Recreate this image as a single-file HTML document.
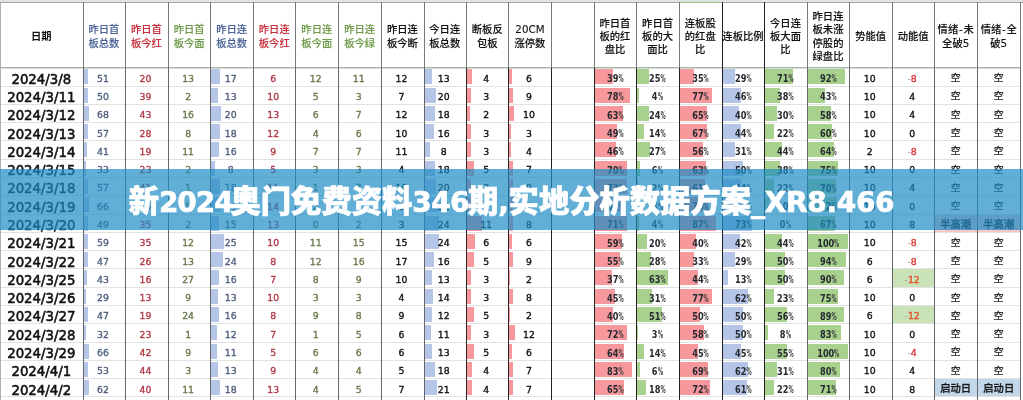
<!DOCTYPE html><html><head><meta charset="utf-8"><title>sheet</title><style>
html,body{margin:0;padding:0;background:#fff}
#r{position:relative;width:1023px;height:400px;overflow:hidden;background:#fff}
#r div{position:absolute}
.hl{height:1px;background:#e2e2e2}
.vl{width:1px}
.bar{}
.t{text-align:center;white-space:nowrap;font-family:"DejaVu Sans",sans-serif;font-size:9.3px;line-height:12px;-webkit-text-stroke:0.35px currentColor}
.d{text-align:center;white-space:nowrap;font-family:"DejaVu Sans",sans-serif;font-size:13.3px;line-height:16px;color:#111;-webkit-text-stroke:0.55px #111}
.p{text-align:center;white-space:nowrap;font-family:"DejaVu Sans Condensed","DejaVu Sans",sans-serif;font-weight:bold;font-stretch:condensed;font-size:10.6px;line-height:12px;color:#262a30;transform:scaleX(0.86)}
.p .pc{display:inline-block;transform:scaleX(0.62);transform-origin:0 0;margin-right:-3.6px;color:#383838}
.h{text-align:center;white-space:nowrap;font-family:"DejaVu Sans","Noto Sans CJK SC",sans-serif;font-weight:500;font-size:10.3px;line-height:13.2px;-webkit-text-stroke:0.12px currentColor}
.c{text-align:center;white-space:nowrap;font-family:"Liberation Sans","WenQuanYi Zen Hei",sans-serif;font-size:9.8px;line-height:12px;color:#1a1a1a;-webkit-text-stroke:0.3px #1a1a1a}
.c2{text-align:center;white-space:nowrap;font-family:"Liberation Sans","Noto Sans CJK SC",sans-serif;font-weight:500;font-size:10.3px;line-height:12px;color:#1a1a1a;-webkit-text-stroke:0.3px #1a1a1a}
#bn{left:0;top:169px;width:1023px;height:61px;background:rgba(30,139,196,0.7)}
#bt{left:0;top:169px;width:1023px;height:61px;text-align:center;color:#fff;font-family:"Noto Sans CJK SC",sans-serif;font-weight:900;font-size:30.3px;line-height:61px;white-space:nowrap}
#bt .lt{font-family:"DejaVu Sans",sans-serif;font-weight:bold;font-size:28px;letter-spacing:-0.3px}
#bt{-webkit-text-stroke:0.7px #fff}

</style></head><body><div id="r">
<div style="left:0;top:0;width:1023px;height:2px;background:#e3e3e3"></div>
<div style="left:0;top:2px;width:1023px;height:1px;background:#a8a8a8"></div>
<div style="left:679px;top:1px;width:43px;height:1px;background:#d2e8cc"></div>
<div style="left:679px;top:2px;width:43px;height:1px;background:#9cc894"></div>
<div style="left:893px;top:269px;width:41.3px;height:18px;background:#c9e2b8"></div>
<div style="left:893px;top:306px;width:41.3px;height:18px;background:#c9e2b8"></div>
<div style="left:935.3px;top:214px;width:41.8px;height:18px;background:#f6c9c9"></div>
<div style="left:978.1px;top:214px;width:42.3px;height:18px;background:#f6c9c9"></div>
<div style="left:935.3px;top:379px;width:41.8px;height:18px;background:#c2d7ea"></div>
<div style="left:978.1px;top:379px;width:42.3px;height:18px;background:#c2d7ea"></div>
<div class="hl" style="left:0;top:86px;width:1021px"></div>
<div class="hl" style="left:0;top:104px;width:1021px"></div>
<div class="hl" style="left:0;top:122px;width:1021px"></div>
<div class="hl" style="left:0;top:140px;width:1021px"></div>
<div class="hl" style="left:0;top:159px;width:1021px"></div>
<div class="hl" style="left:0;top:177px;width:1021px"></div>
<div class="hl" style="left:0;top:195px;width:1021px"></div>
<div class="hl" style="left:0;top:214px;width:1021px"></div>
<div class="hl" style="left:0;top:232px;width:1021px"></div>
<div class="hl" style="left:0;top:250px;width:1021px"></div>
<div class="hl" style="left:0;top:268px;width:1021px"></div>
<div class="hl" style="left:0;top:287px;width:1021px"></div>
<div class="hl" style="left:0;top:305px;width:1021px"></div>
<div class="hl" style="left:0;top:323px;width:1021px"></div>
<div class="hl" style="left:0;top:342px;width:1021px"></div>
<div class="hl" style="left:0;top:360px;width:1021px"></div>
<div class="hl" style="left:0;top:378px;width:1021px"></div>
<div class="hl" style="left:0;top:396px;width:1021px"></div>
<div style="left:84px;top:69px;width:4px;height:15.29px;background:#b4c5e8"></div>
<div style="left:211px;top:69px;width:9px;height:15.29px;background:#b4c5e8"></div>
<div style="left:425px;top:69px;width:7px;height:15.29px;background:#b4c5e8"></div>
<div style="left:467px;top:69px;width:5px;height:15.29px;background:#f7989d"></div>
<div style="left:509px;top:69px;width:3px;height:15.29px;background:#f7989d"></div>
<div style="left:595px;top:69px;width:18px;height:15.29px;background:#f7989d"></div>
<div style="left:637px;top:69px;width:12px;height:15.29px;background:#a9d18e"></div>
<div style="left:680px;top:69px;width:14px;height:15.29px;background:#f7989d"></div>
<div style="left:723px;top:69px;width:12px;height:15.29px;background:#b4c5e8"></div>
<div style="left:765px;top:69px;width:28px;height:15.29px;background:#a9d18e"></div>
<div style="left:808px;top:69px;width:37px;height:15.29px;background:#a9d18e"></div>
<div style="left:84px;top:88px;width:4px;height:15.29px;background:#b4c5e8"></div>
<div style="left:211px;top:88px;width:7px;height:15.29px;background:#b4c5e8"></div>
<div style="left:425px;top:88px;width:11px;height:15.29px;background:#b4c5e8"></div>
<div style="left:467px;top:88px;width:4px;height:15.29px;background:#f7989d"></div>
<div style="left:509px;top:88px;width:4px;height:15.29px;background:#f7989d"></div>
<div style="left:595px;top:88px;width:35px;height:15.29px;background:#f7989d"></div>
<div style="left:637px;top:88px;width:2px;height:15.29px;background:#a9d18e"></div>
<div style="left:680px;top:88px;width:32px;height:15.29px;background:#f7989d"></div>
<div style="left:723px;top:88px;width:18px;height:15.29px;background:#b4c5e8"></div>
<div style="left:765px;top:88px;width:15px;height:15.29px;background:#a9d18e"></div>
<div style="left:808px;top:88px;width:17px;height:15.29px;background:#a9d18e"></div>
<div style="left:84px;top:106px;width:5px;height:15.29px;background:#b4c5e8"></div>
<div style="left:211px;top:106px;width:10px;height:15.29px;background:#b4c5e8"></div>
<div style="left:425px;top:106px;width:10px;height:15.29px;background:#b4c5e8"></div>
<div style="left:467px;top:106px;width:3px;height:15.29px;background:#f7989d"></div>
<div style="left:509px;top:106px;width:5px;height:15.29px;background:#f7989d"></div>
<div style="left:595px;top:106px;width:28px;height:15.29px;background:#f7989d"></div>
<div style="left:637px;top:106px;width:12px;height:15.29px;background:#a9d18e"></div>
<div style="left:680px;top:106px;width:27px;height:15.29px;background:#f7989d"></div>
<div style="left:723px;top:106px;width:16px;height:15.29px;background:#b4c5e8"></div>
<div style="left:765px;top:106px;width:12px;height:15.29px;background:#a9d18e"></div>
<div style="left:808px;top:106px;width:23px;height:15.29px;background:#a9d18e"></div>
<div style="left:84px;top:124px;width:4px;height:15.29px;background:#b4c5e8"></div>
<div style="left:211px;top:124px;width:9px;height:15.29px;background:#b4c5e8"></div>
<div style="left:425px;top:124px;width:9px;height:15.29px;background:#b4c5e8"></div>
<div style="left:467px;top:124px;width:4px;height:15.29px;background:#f7989d"></div>
<div style="left:509px;top:124px;width:2px;height:15.29px;background:#f7989d"></div>
<div style="left:595px;top:124px;width:22px;height:15.29px;background:#f7989d"></div>
<div style="left:637px;top:124px;width:7px;height:15.29px;background:#a9d18e"></div>
<div style="left:680px;top:124px;width:27px;height:15.29px;background:#f7989d"></div>
<div style="left:723px;top:124px;width:18px;height:15.29px;background:#b4c5e8"></div>
<div style="left:765px;top:124px;width:9px;height:15.29px;background:#a9d18e"></div>
<div style="left:808px;top:124px;width:24px;height:15.29px;background:#a9d18e"></div>
<div style="left:84px;top:142px;width:3px;height:15.29px;background:#b4c5e8"></div>
<div style="left:211px;top:142px;width:8px;height:15.29px;background:#b4c5e8"></div>
<div style="left:425px;top:142px;width:5px;height:15.29px;background:#b4c5e8"></div>
<div style="left:467px;top:142px;width:4px;height:15.29px;background:#f7989d"></div>
<div style="left:509px;top:142px;width:2px;height:15.29px;background:#f7989d"></div>
<div style="left:595px;top:142px;width:21px;height:15.29px;background:#f7989d"></div>
<div style="left:637px;top:142px;width:13px;height:15.29px;background:#a9d18e"></div>
<div style="left:680px;top:142px;width:23px;height:15.29px;background:#f7989d"></div>
<div style="left:723px;top:142px;width:12px;height:15.29px;background:#b4c5e8"></div>
<div style="left:765px;top:142px;width:17px;height:15.29px;background:#a9d18e"></div>
<div style="left:808px;top:142px;width:26px;height:15.29px;background:#a9d18e"></div>
<div style="left:84px;top:161px;width:2px;height:15.29px;background:#b4c5e8"></div>
<div style="left:211px;top:161px;width:4px;height:15.29px;background:#b4c5e8"></div>
<div style="left:425px;top:161px;width:10px;height:15.29px;background:#b4c5e8"></div>
<div style="left:467px;top:161px;width:7px;height:15.29px;background:#f7989d"></div>
<div style="left:509px;top:161px;width:4px;height:15.29px;background:#f7989d"></div>
<div style="left:595px;top:161px;width:32px;height:15.29px;background:#f7989d"></div>
<div style="left:637px;top:161px;width:3px;height:15.29px;background:#a9d18e"></div>
<div style="left:680px;top:161px;width:26px;height:15.29px;background:#f7989d"></div>
<div style="left:723px;top:161px;width:20px;height:15.29px;background:#b4c5e8"></div>
<div style="left:765px;top:161px;width:15px;height:15.29px;background:#a9d18e"></div>
<div style="left:808px;top:161px;width:30px;height:15.29px;background:#a9d18e"></div>
<div style="left:84px;top:179px;width:4px;height:15.29px;background:#b4c5e8"></div>
<div style="left:211px;top:179px;width:9px;height:15.29px;background:#b4c5e8"></div>
<div style="left:425px;top:179px;width:11px;height:15.29px;background:#b4c5e8"></div>
<div style="left:467px;top:179px;width:4px;height:15.29px;background:#f7989d"></div>
<div style="left:509px;top:179px;width:4px;height:15.29px;background:#f7989d"></div>
<div style="left:595px;top:179px;width:32px;height:15.29px;background:#f7989d"></div>
<div style="left:637px;top:179px;width:1px;height:15.29px;background:#a9d18e"></div>
<div style="left:680px;top:179px;width:25px;height:15.29px;background:#f7989d"></div>
<div style="left:723px;top:179px;width:18px;height:15.29px;background:#b4c5e8"></div>
<div style="left:765px;top:179px;width:9px;height:15.29px;background:#a9d18e"></div>
<div style="left:808px;top:179px;width:28px;height:15.29px;background:#a9d18e"></div>
<div style="left:84px;top:197px;width:5px;height:15.29px;background:#b4c5e8"></div>
<div style="left:211px;top:197px;width:10px;height:15.29px;background:#b4c5e8"></div>
<div style="left:425px;top:197px;width:13px;height:15.29px;background:#b4c5e8"></div>
<div style="left:467px;top:197px;width:5px;height:15.29px;background:#f7989d"></div>
<div style="left:509px;top:197px;width:4px;height:15.29px;background:#f7989d"></div>
<div style="left:595px;top:197px;width:31px;height:15.29px;background:#f7989d"></div>
<div style="left:637px;top:197px;width:4px;height:15.29px;background:#a9d18e"></div>
<div style="left:680px;top:197px;width:29px;height:15.29px;background:#f7989d"></div>
<div style="left:723px;top:197px;width:20px;height:15.29px;background:#b4c5e8"></div>
<div style="left:765px;top:197px;width:4px;height:15.29px;background:#a9d18e"></div>
<div style="left:808px;top:197px;width:29px;height:15.29px;background:#a9d18e"></div>
<div style="left:84px;top:216px;width:4px;height:15.29px;background:#b4c5e8"></div>
<div style="left:211px;top:216px;width:8px;height:15.29px;background:#b4c5e8"></div>
<div style="left:425px;top:216px;width:14px;height:15.29px;background:#b4c5e8"></div>
<div style="left:467px;top:216px;width:15px;height:15.29px;background:#f7989d"></div>
<div style="left:509px;top:216px;width:4px;height:15.29px;background:#f7989d"></div>
<div style="left:595px;top:216px;width:32px;height:15.29px;background:#f7989d"></div>
<div style="left:637px;top:216px;width:2px;height:15.29px;background:#a9d18e"></div>
<div style="left:680px;top:216px;width:36px;height:15.29px;background:#f7989d"></div>
<div style="left:723px;top:216px;width:29px;height:15.29px;background:#b4c5e8"></div>
<div style="left:808px;top:216px;width:27px;height:15.29px;background:#a9d18e"></div>
<div style="left:84px;top:234px;width:4px;height:15.29px;background:#b4c5e8"></div>
<div style="left:211px;top:234px;width:13px;height:15.29px;background:#b4c5e8"></div>
<div style="left:425px;top:234px;width:14px;height:15.29px;background:#b4c5e8"></div>
<div style="left:467px;top:234px;width:8px;height:15.29px;background:#f7989d"></div>
<div style="left:509px;top:234px;width:3px;height:15.29px;background:#f7989d"></div>
<div style="left:595px;top:234px;width:27px;height:15.29px;background:#f7989d"></div>
<div style="left:637px;top:234px;width:10px;height:15.29px;background:#a9d18e"></div>
<div style="left:680px;top:234px;width:16px;height:15.29px;background:#f7989d"></div>
<div style="left:723px;top:234px;width:17px;height:15.29px;background:#b4c5e8"></div>
<div style="left:765px;top:234px;width:17px;height:15.29px;background:#a9d18e"></div>
<div style="left:808px;top:234px;width:40px;height:15.29px;background:#a9d18e"></div>
<div style="left:84px;top:252px;width:4px;height:15.29px;background:#b4c5e8"></div>
<div style="left:211px;top:252px;width:12px;height:15.29px;background:#b4c5e8"></div>
<div style="left:425px;top:252px;width:9px;height:15.29px;background:#b4c5e8"></div>
<div style="left:467px;top:252px;width:7px;height:15.29px;background:#f7989d"></div>
<div style="left:509px;top:252px;width:4px;height:15.29px;background:#f7989d"></div>
<div style="left:595px;top:252px;width:25px;height:15.29px;background:#f7989d"></div>
<div style="left:637px;top:252px;width:14px;height:15.29px;background:#a9d18e"></div>
<div style="left:680px;top:252px;width:14px;height:15.29px;background:#f7989d"></div>
<div style="left:723px;top:252px;width:12px;height:15.29px;background:#b4c5e8"></div>
<div style="left:765px;top:252px;width:20px;height:15.29px;background:#a9d18e"></div>
<div style="left:808px;top:252px;width:38px;height:15.29px;background:#a9d18e"></div>
<div style="left:84px;top:270px;width:3px;height:15.29px;background:#b4c5e8"></div>
<div style="left:211px;top:270px;width:8px;height:15.29px;background:#b4c5e8"></div>
<div style="left:425px;top:270px;width:7px;height:15.29px;background:#b4c5e8"></div>
<div style="left:467px;top:270px;width:4px;height:15.29px;background:#f7989d"></div>
<div style="left:509px;top:270px;width:1px;height:15.29px;background:#f7989d"></div>
<div style="left:595px;top:270px;width:17px;height:15.29px;background:#f7989d"></div>
<div style="left:637px;top:270px;width:31px;height:15.29px;background:#a9d18e"></div>
<div style="left:680px;top:270px;width:18px;height:15.29px;background:#f7989d"></div>
<div style="left:723px;top:270px;width:5px;height:15.29px;background:#b4c5e8"></div>
<div style="left:765px;top:270px;width:20px;height:15.29px;background:#a9d18e"></div>
<div style="left:808px;top:270px;width:36px;height:15.29px;background:#a9d18e"></div>
<div style="left:84px;top:289px;width:2px;height:15.29px;background:#b4c5e8"></div>
<div style="left:211px;top:289px;width:7px;height:15.29px;background:#b4c5e8"></div>
<div style="left:425px;top:289px;width:8px;height:15.29px;background:#b4c5e8"></div>
<div style="left:467px;top:289px;width:4px;height:15.29px;background:#f7989d"></div>
<div style="left:509px;top:289px;width:4px;height:15.29px;background:#f7989d"></div>
<div style="left:595px;top:289px;width:20px;height:15.29px;background:#f7989d"></div>
<div style="left:637px;top:289px;width:15px;height:15.29px;background:#a9d18e"></div>
<div style="left:680px;top:289px;width:32px;height:15.29px;background:#f7989d"></div>
<div style="left:723px;top:289px;width:25px;height:15.29px;background:#b4c5e8"></div>
<div style="left:765px;top:289px;width:9px;height:15.29px;background:#a9d18e"></div>
<div style="left:808px;top:289px;width:30px;height:15.29px;background:#a9d18e"></div>
<div style="left:84px;top:307px;width:4px;height:15.29px;background:#b4c5e8"></div>
<div style="left:211px;top:307px;width:8px;height:15.29px;background:#b4c5e8"></div>
<div style="left:425px;top:307px;width:7px;height:15.29px;background:#b4c5e8"></div>
<div style="left:467px;top:307px;width:7px;height:15.29px;background:#f7989d"></div>
<div style="left:509px;top:307px;width:1px;height:15.29px;background:#f7989d"></div>
<div style="left:595px;top:307px;width:18px;height:15.29px;background:#f7989d"></div>
<div style="left:637px;top:307px;width:25px;height:15.29px;background:#a9d18e"></div>
<div style="left:680px;top:307px;width:20px;height:15.29px;background:#f7989d"></div>
<div style="left:723px;top:307px;width:20px;height:15.29px;background:#b4c5e8"></div>
<div style="left:765px;top:307px;width:22px;height:15.29px;background:#a9d18e"></div>
<div style="left:808px;top:307px;width:36px;height:15.29px;background:#a9d18e"></div>
<div style="left:84px;top:325px;width:2px;height:15.29px;background:#b4c5e8"></div>
<div style="left:211px;top:325px;width:6px;height:15.29px;background:#b4c5e8"></div>
<div style="left:425px;top:325px;width:6px;height:15.29px;background:#b4c5e8"></div>
<div style="left:467px;top:325px;width:4px;height:15.29px;background:#f7989d"></div>
<div style="left:509px;top:325px;width:6px;height:15.29px;background:#f7989d"></div>
<div style="left:595px;top:325px;width:32px;height:15.29px;background:#f7989d"></div>
<div style="left:637px;top:325px;width:1px;height:15.29px;background:#a9d18e"></div>
<div style="left:680px;top:325px;width:24px;height:15.29px;background:#f7989d"></div>
<div style="left:723px;top:325px;width:20px;height:15.29px;background:#b4c5e8"></div>
<div style="left:765px;top:325px;width:3px;height:15.29px;background:#a9d18e"></div>
<div style="left:808px;top:325px;width:33px;height:15.29px;background:#a9d18e"></div>
<div style="left:84px;top:344px;width:5px;height:15.29px;background:#b4c5e8"></div>
<div style="left:211px;top:344px;width:6px;height:15.29px;background:#b4c5e8"></div>
<div style="left:425px;top:344px;width:7px;height:15.29px;background:#b4c5e8"></div>
<div style="left:467px;top:344px;width:7px;height:15.29px;background:#f7989d"></div>
<div style="left:509px;top:344px;width:3px;height:15.29px;background:#f7989d"></div>
<div style="left:595px;top:344px;width:29px;height:15.29px;background:#f7989d"></div>
<div style="left:637px;top:344px;width:7px;height:15.29px;background:#a9d18e"></div>
<div style="left:680px;top:344px;width:18px;height:15.29px;background:#f7989d"></div>
<div style="left:723px;top:344px;width:18px;height:15.29px;background:#b4c5e8"></div>
<div style="left:765px;top:344px;width:22px;height:15.29px;background:#a9d18e"></div>
<div style="left:808px;top:344px;width:40px;height:15.29px;background:#a9d18e"></div>
<div style="left:84px;top:362px;width:4px;height:15.29px;background:#b4c5e8"></div>
<div style="left:211px;top:362px;width:7px;height:15.29px;background:#b4c5e8"></div>
<div style="left:425px;top:362px;width:10px;height:15.29px;background:#b4c5e8"></div>
<div style="left:467px;top:362px;width:5px;height:15.29px;background:#f7989d"></div>
<div style="left:509px;top:362px;width:4px;height:15.29px;background:#f7989d"></div>
<div style="left:595px;top:362px;width:37px;height:15.29px;background:#f7989d"></div>
<div style="left:637px;top:362px;width:3px;height:15.29px;background:#a9d18e"></div>
<div style="left:680px;top:362px;width:28px;height:15.29px;background:#f7989d"></div>
<div style="left:723px;top:362px;width:25px;height:15.29px;background:#b4c5e8"></div>
<div style="left:765px;top:362px;width:12px;height:15.29px;background:#a9d18e"></div>
<div style="left:808px;top:362px;width:32px;height:15.29px;background:#a9d18e"></div>
<div style="left:84px;top:380px;width:5px;height:15.29px;background:#b4c5e8"></div>
<div style="left:211px;top:380px;width:9px;height:15.29px;background:#b4c5e8"></div>
<div style="left:425px;top:380px;width:12px;height:15.29px;background:#b4c5e8"></div>
<div style="left:467px;top:380px;width:5px;height:15.29px;background:#f7989d"></div>
<div style="left:509px;top:380px;width:4px;height:15.29px;background:#f7989d"></div>
<div style="left:595px;top:380px;width:29px;height:15.29px;background:#f7989d"></div>
<div style="left:637px;top:380px;width:9px;height:15.29px;background:#a9d18e"></div>
<div style="left:680px;top:380px;width:30px;height:15.29px;background:#f7989d"></div>
<div style="left:723px;top:380px;width:24px;height:15.29px;background:#b4c5e8"></div>
<div style="left:765px;top:380px;width:9px;height:15.29px;background:#a9d18e"></div>
<div style="left:808px;top:380px;width:28px;height:15.29px;background:#a9d18e"></div>
<div style="left:0;top:67px;width:1021px;height:1px;background:#a9b3a9"></div>
<div style="left:0;top:68px;width:1021px;height:1px;background:#d5dcd5"></div>
<div class="vl" style="left:0px;top:2px;height:66px;background:#b0b0b0"></div>
<div class="vl" style="left:0px;top:68px;height:332px;background:#b0b0b0"></div>
<div class="vl" style="left:83px;top:2px;height:66px;background:#787878"></div>
<div class="vl" style="left:83px;top:68px;height:332px;background:#666"></div>
<div class="vl" style="left:125px;top:2px;height:66px;background:#787878"></div>
<div class="vl" style="left:125px;top:68px;height:332px;background:#666"></div>
<div class="vl" style="left:168px;top:2px;height:66px;background:#787878"></div>
<div class="vl" style="left:168px;top:68px;height:332px;background:#666"></div>
<div class="vl" style="left:210px;top:2px;height:66px;background:#787878"></div>
<div class="vl" style="left:210px;top:68px;height:332px;background:#666"></div>
<div class="vl" style="left:253px;top:2px;height:66px;background:#787878"></div>
<div class="vl" style="left:253px;top:68px;height:332px;background:#666"></div>
<div class="vl" style="left:295px;top:2px;height:66px;background:#787878"></div>
<div class="vl" style="left:295px;top:68px;height:332px;background:#666"></div>
<div class="vl" style="left:338px;top:2px;height:66px;background:#787878"></div>
<div class="vl" style="left:338px;top:68px;height:332px;background:#666"></div>
<div class="vl" style="left:381px;top:2px;height:66px;background:#787878"></div>
<div class="vl" style="left:381px;top:68px;height:332px;background:#666"></div>
<div class="vl" style="left:424px;top:2px;height:66px;background:#787878"></div>
<div class="vl" style="left:424px;top:68px;height:332px;background:#666"></div>
<div class="vl" style="left:466px;top:2px;height:66px;background:#787878"></div>
<div class="vl" style="left:466px;top:68px;height:332px;background:#2e2222"></div>
<div class="vl" style="left:508px;top:2px;height:66px;background:#787878"></div>
<div class="vl" style="left:508px;top:68px;height:332px;background:#2e2222"></div>
<div class="vl" style="left:551px;top:2px;height:66px;background:#787878"></div>
<div class="vl" style="left:551px;top:68px;height:332px;background:#222"></div>
<div class="vl" style="left:594px;top:2px;height:66px;background:#787878"></div>
<div class="vl" style="left:594px;top:68px;height:332px;background:#222"></div>
<div class="vl" style="left:636px;top:2px;height:66px;background:#787878"></div>
<div class="vl" style="left:636px;top:68px;height:332px;background:#222"></div>
<div class="vl" style="left:679px;top:2px;height:66px;background:#787878"></div>
<div class="vl" style="left:679px;top:68px;height:332px;background:#222"></div>
<div class="vl" style="left:722px;top:2px;height:66px;background:#1e1e1e"></div>
<div class="vl" style="left:722px;top:68px;height:332px;background:#1e1e1e"></div>
<div class="vl" style="left:764px;top:2px;height:66px;background:#1e1e1e"></div>
<div class="vl" style="left:764px;top:68px;height:332px;background:#1e1e1e"></div>
<div class="vl" style="left:807px;top:2px;height:66px;background:#787878"></div>
<div class="vl" style="left:807px;top:68px;height:332px;background:#666"></div>
<div class="vl" style="left:849px;top:2px;height:66px;background:#787878"></div>
<div class="vl" style="left:849px;top:68px;height:332px;background:#666"></div>
<div class="vl" style="left:892px;top:2px;height:66px;background:#787878"></div>
<div class="vl" style="left:892px;top:68px;height:332px;background:#666"></div>
<div class="vl" style="left:934px;top:2px;height:66px;background:#787878"></div>
<div class="vl" style="left:934px;top:68px;height:332px;background:#666"></div>
<div class="vl" style="left:977px;top:2px;height:66px;background:#787878"></div>
<div class="vl" style="left:977px;top:68px;height:332px;background:#666"></div>
<div class="vl" style="left:1020px;top:2px;height:66px;background:#787878"></div>
<div class="vl" style="left:1020px;top:68px;height:332px;background:#666"></div>
<div class="h" style="left:0px;top:30px;width:82.6px;color:#111;font-weight:bold;-webkit-text-stroke:0;">日期</div>
<div class="h" style="left:82.6px;top:23.4px;width:42.6px;color:#4a6496;">昨日首<br>板总数</div>
<div class="h" style="left:125.2px;top:23.4px;width:42.6px;color:#c8303c;">昨日首<br>板今红</div>
<div class="h" style="left:167.8px;top:23.4px;width:42.6px;color:#6f9a4a;">昨日首<br>板今面</div>
<div class="h" style="left:210.4px;top:23.4px;width:42.7px;color:#4a6496;">昨日连<br>板总数</div>
<div class="h" style="left:253.1px;top:23.4px;width:42.3px;color:#c8303c;">昨日连<br>板今红</div>
<div class="h" style="left:295.4px;top:23.4px;width:42.8px;color:#6f9a4a;">昨日连<br>板今面</div>
<div class="h" style="left:338.2px;top:23.4px;width:43.1px;color:#6f9a4a;">昨日连<br>板今绿</div>
<div class="h" style="left:381.3px;top:23.4px;width:42.2px;color:#111;">昨日连<br>板今断</div>
<div class="h" style="left:423.5px;top:23.4px;width:42.5px;color:#111;">今日连<br>板总数</div>
<div class="h" style="left:466px;top:23.4px;width:42.5px;color:#111;">断板反<br>包板</div>
<div class="h" style="left:508.5px;top:23.4px;width:42.9px;color:#111;">20CM<br>涨停数</div>
<div class="h" style="left:593.7px;top:16.8px;width:42.6px;color:#111;">昨日首<br>板的红<br>盘比</div>
<div class="h" style="left:636.3px;top:16.8px;width:42.5px;color:#111;">昨日首<br>板的大<br>面比</div>
<div class="h" style="left:678.8px;top:16.8px;width:42.9px;color:#111;">连板股<br>的红盘<br>比</div>
<div class="h" style="left:721.7px;top:30px;width:42.6px;color:#111;">连板比例</div>
<div class="h" style="left:764.3px;top:16.8px;width:42.4px;color:#111;">今日连<br>板大面<br>比</div>
<div class="h" style="left:806.7px;top:10.2px;width:42.7px;color:#111;">昨日连<br>板未涨<br>停股的<br>绿盘比</div>
<div class="h" style="left:849.4px;top:30px;width:42.6px;color:#111;">势能值</div>
<div class="h" style="left:892px;top:30px;width:42.3px;color:#111;">动能值</div>
<div class="h" style="left:934.3px;top:23.4px;width:42.8px;color:#111;">情绪<span style="padding:0 0.8px">-</span>未<br>全破5</div>
<div class="h" style="left:977.1px;top:23.4px;width:43.3px;color:#111;">情绪<span style="padding:0 0.8px">-</span>全<br>破5</div>
<div class="d" style="left:0px;top:71.65px;width:82.6px">2024/3/8</div>
<div class="t" style="left:81.6px;top:72.65px;width:42.6px;color:#50607e">51</div>
<div class="t" style="left:124.2px;top:72.65px;width:42.6px;color:#b03a48">20</div>
<div class="t" style="left:166.8px;top:72.65px;width:42.6px;color:#6b7a4c">13</div>
<div class="t" style="left:209.4px;top:72.65px;width:42.7px;color:#50607e">17</div>
<div class="t" style="left:252.1px;top:72.65px;width:42.3px;color:#b03a48">6</div>
<div class="t" style="left:294.4px;top:72.65px;width:42.8px;color:#6b7a4c">12</div>
<div class="t" style="left:337.2px;top:72.65px;width:43.1px;color:#6b7a4c">11</div>
<div class="t" style="left:380.3px;top:72.65px;width:42.2px;color:#111">12</div>
<div class="t" style="left:422.5px;top:72.65px;width:42.5px;color:#111">13</div>
<div class="t" style="left:465px;top:72.65px;width:42.5px;color:#111">4</div>
<div class="t" style="left:507.5px;top:72.65px;width:42.9px;color:#111">6</div>
<div class="p" style="left:593.7px;top:72.15px;width:42.6px">39<span class="pc">%</span></div>
<div class="p" style="left:636.3px;top:72.15px;width:42.5px">25<span class="pc">%</span></div>
<div class="p" style="left:678.8px;top:72.15px;width:42.9px">35<span class="pc">%</span></div>
<div class="p" style="left:721.7px;top:72.15px;width:42.6px">29<span class="pc">%</span></div>
<div class="p" style="left:764.3px;top:72.15px;width:42.4px">71<span class="pc">%</span></div>
<div class="p" style="left:806.7px;top:72.15px;width:42.7px">92<span class="pc">%</span></div>
<div class="t" style="left:848.4px;top:72.65px;width:42.6px;color:#111">10</div>
<div class="t" style="left:891px;top:72.65px;width:42.3px;color:#d8383a"><span style="color:#b89090;-webkit-text-stroke:0">-</span>8</div>
<div class="c" style="left:934.3px;top:72.05px;width:42.8px">空</div>
<div class="c" style="left:977.1px;top:72.05px;width:43.3px">空</div>
<div class="d" style="left:0px;top:89.94px;width:82.6px">2024/3/11</div>
<div class="t" style="left:81.6px;top:90.94px;width:42.6px;color:#50607e">50</div>
<div class="t" style="left:124.2px;top:90.94px;width:42.6px;color:#b03a48">39</div>
<div class="t" style="left:166.8px;top:90.94px;width:42.6px;color:#6b7a4c">2</div>
<div class="t" style="left:209.4px;top:90.94px;width:42.7px;color:#50607e">13</div>
<div class="t" style="left:252.1px;top:90.94px;width:42.3px;color:#b03a48">10</div>
<div class="t" style="left:294.4px;top:90.94px;width:42.8px;color:#6b7a4c">5</div>
<div class="t" style="left:337.2px;top:90.94px;width:43.1px;color:#6b7a4c">3</div>
<div class="t" style="left:380.3px;top:90.94px;width:42.2px;color:#111">7</div>
<div class="t" style="left:422.5px;top:90.94px;width:42.5px;color:#111">20</div>
<div class="t" style="left:465px;top:90.94px;width:42.5px;color:#111">3</div>
<div class="t" style="left:507.5px;top:90.94px;width:42.9px;color:#111">9</div>
<div class="p" style="left:593.7px;top:90.44px;width:42.6px">78<span class="pc">%</span></div>
<div class="p" style="left:636.3px;top:90.44px;width:42.5px">4<span class="pc">%</span></div>
<div class="p" style="left:678.8px;top:90.44px;width:42.9px">77<span class="pc">%</span></div>
<div class="p" style="left:721.7px;top:90.44px;width:42.6px">46<span class="pc">%</span></div>
<div class="p" style="left:764.3px;top:90.44px;width:42.4px">38<span class="pc">%</span></div>
<div class="p" style="left:806.7px;top:90.44px;width:42.7px">43<span class="pc">%</span></div>
<div class="t" style="left:848.4px;top:90.94px;width:42.6px;color:#111">10</div>
<div class="t" style="left:891px;top:90.94px;width:42.3px;color:#111">4</div>
<div class="c" style="left:934.3px;top:90.34px;width:42.8px">空</div>
<div class="c" style="left:977.1px;top:90.34px;width:43.3px">空</div>
<div class="d" style="left:0px;top:108.23px;width:82.6px">2024/3/12</div>
<div class="t" style="left:81.6px;top:109.23px;width:42.6px;color:#50607e">68</div>
<div class="t" style="left:124.2px;top:109.23px;width:42.6px;color:#b03a48">43</div>
<div class="t" style="left:166.8px;top:109.23px;width:42.6px;color:#6b7a4c">16</div>
<div class="t" style="left:209.4px;top:109.23px;width:42.7px;color:#50607e">20</div>
<div class="t" style="left:252.1px;top:109.23px;width:42.3px;color:#b03a48">13</div>
<div class="t" style="left:294.4px;top:109.23px;width:42.8px;color:#6b7a4c">6</div>
<div class="t" style="left:337.2px;top:109.23px;width:43.1px;color:#6b7a4c">7</div>
<div class="t" style="left:380.3px;top:109.23px;width:42.2px;color:#111">12</div>
<div class="t" style="left:422.5px;top:109.23px;width:42.5px;color:#111">18</div>
<div class="t" style="left:465px;top:109.23px;width:42.5px;color:#111">2</div>
<div class="t" style="left:507.5px;top:109.23px;width:42.9px;color:#111">10</div>
<div class="p" style="left:593.7px;top:108.73px;width:42.6px">63<span class="pc">%</span></div>
<div class="p" style="left:636.3px;top:108.73px;width:42.5px">24<span class="pc">%</span></div>
<div class="p" style="left:678.8px;top:108.73px;width:42.9px">65<span class="pc">%</span></div>
<div class="p" style="left:721.7px;top:108.73px;width:42.6px">40<span class="pc">%</span></div>
<div class="p" style="left:764.3px;top:108.73px;width:42.4px">30<span class="pc">%</span></div>
<div class="p" style="left:806.7px;top:108.73px;width:42.7px">58<span class="pc">%</span></div>
<div class="t" style="left:848.4px;top:109.23px;width:42.6px;color:#111">10</div>
<div class="t" style="left:891px;top:109.23px;width:42.3px;color:#111">4</div>
<div class="c" style="left:934.3px;top:108.63px;width:42.8px">空</div>
<div class="c" style="left:977.1px;top:108.63px;width:43.3px">空</div>
<div class="d" style="left:0px;top:126.52px;width:82.6px">2024/3/13</div>
<div class="t" style="left:81.6px;top:127.52px;width:42.6px;color:#50607e">57</div>
<div class="t" style="left:124.2px;top:127.52px;width:42.6px;color:#b03a48">28</div>
<div class="t" style="left:166.8px;top:127.52px;width:42.6px;color:#6b7a4c">8</div>
<div class="t" style="left:209.4px;top:127.52px;width:42.7px;color:#50607e">18</div>
<div class="t" style="left:252.1px;top:127.52px;width:42.3px;color:#b03a48">12</div>
<div class="t" style="left:294.4px;top:127.52px;width:42.8px;color:#6b7a4c">4</div>
<div class="t" style="left:337.2px;top:127.52px;width:43.1px;color:#6b7a4c">6</div>
<div class="t" style="left:380.3px;top:127.52px;width:42.2px;color:#111">10</div>
<div class="t" style="left:422.5px;top:127.52px;width:42.5px;color:#111">16</div>
<div class="t" style="left:465px;top:127.52px;width:42.5px;color:#111">3</div>
<div class="t" style="left:507.5px;top:127.52px;width:42.9px;color:#111">3</div>
<div class="p" style="left:593.7px;top:127.02px;width:42.6px">49<span class="pc">%</span></div>
<div class="p" style="left:636.3px;top:127.02px;width:42.5px">14<span class="pc">%</span></div>
<div class="p" style="left:678.8px;top:127.02px;width:42.9px">67<span class="pc">%</span></div>
<div class="p" style="left:721.7px;top:127.02px;width:42.6px">44<span class="pc">%</span></div>
<div class="p" style="left:764.3px;top:127.02px;width:42.4px">22<span class="pc">%</span></div>
<div class="p" style="left:806.7px;top:127.02px;width:42.7px">60<span class="pc">%</span></div>
<div class="t" style="left:848.4px;top:127.52px;width:42.6px;color:#111">10</div>
<div class="t" style="left:891px;top:127.52px;width:42.3px;color:#111">0</div>
<div class="c" style="left:934.3px;top:126.92px;width:42.8px">空</div>
<div class="c" style="left:977.1px;top:126.92px;width:43.3px">空</div>
<div class="d" style="left:0px;top:144.81px;width:82.6px">2024/3/14</div>
<div class="t" style="left:81.6px;top:145.81px;width:42.6px;color:#50607e">41</div>
<div class="t" style="left:124.2px;top:145.81px;width:42.6px;color:#b03a48">19</div>
<div class="t" style="left:166.8px;top:145.81px;width:42.6px;color:#6b7a4c">11</div>
<div class="t" style="left:209.4px;top:145.81px;width:42.7px;color:#50607e">16</div>
<div class="t" style="left:252.1px;top:145.81px;width:42.3px;color:#b03a48">9</div>
<div class="t" style="left:294.4px;top:145.81px;width:42.8px;color:#6b7a4c">7</div>
<div class="t" style="left:337.2px;top:145.81px;width:43.1px;color:#6b7a4c">7</div>
<div class="t" style="left:380.3px;top:145.81px;width:42.2px;color:#111">11</div>
<div class="t" style="left:422.5px;top:145.81px;width:42.5px;color:#111">8</div>
<div class="t" style="left:465px;top:145.81px;width:42.5px;color:#111">3</div>
<div class="t" style="left:507.5px;top:145.81px;width:42.9px;color:#111">4</div>
<div class="p" style="left:593.7px;top:145.31px;width:42.6px">46<span class="pc">%</span></div>
<div class="p" style="left:636.3px;top:145.31px;width:42.5px">27<span class="pc">%</span></div>
<div class="p" style="left:678.8px;top:145.31px;width:42.9px">56<span class="pc">%</span></div>
<div class="p" style="left:721.7px;top:145.31px;width:42.6px">31<span class="pc">%</span></div>
<div class="p" style="left:764.3px;top:145.31px;width:42.4px">44<span class="pc">%</span></div>
<div class="p" style="left:806.7px;top:145.31px;width:42.7px">64<span class="pc">%</span></div>
<div class="t" style="left:848.4px;top:145.81px;width:42.6px;color:#111">2</div>
<div class="t" style="left:891px;top:145.81px;width:42.3px;color:#d8383a"><span style="color:#b89090;-webkit-text-stroke:0">-</span>8</div>
<div class="c" style="left:934.3px;top:145.21px;width:42.8px">空</div>
<div class="c" style="left:977.1px;top:145.21px;width:43.3px">空</div>
<div class="d" style="left:0px;top:163.1px;width:82.6px">2024/3/15</div>
<div class="t" style="left:81.6px;top:164.1px;width:42.6px;color:#50607e">33</div>
<div class="t" style="left:124.2px;top:164.1px;width:42.6px;color:#b03a48">23</div>
<div class="t" style="left:166.8px;top:164.1px;width:42.6px;color:#6b7a4c">2</div>
<div class="t" style="left:209.4px;top:164.1px;width:42.7px;color:#50607e">8</div>
<div class="t" style="left:252.1px;top:164.1px;width:42.3px;color:#b03a48">5</div>
<div class="t" style="left:294.4px;top:164.1px;width:42.8px;color:#6b7a4c">3</div>
<div class="t" style="left:337.2px;top:164.1px;width:43.1px;color:#6b7a4c">3</div>
<div class="t" style="left:380.3px;top:164.1px;width:42.2px;color:#111">4</div>
<div class="t" style="left:422.5px;top:164.1px;width:42.5px;color:#111">18</div>
<div class="t" style="left:465px;top:164.1px;width:42.5px;color:#111">5</div>
<div class="t" style="left:507.5px;top:164.1px;width:42.9px;color:#111">7</div>
<div class="p" style="left:593.7px;top:163.6px;width:42.6px">70<span class="pc">%</span></div>
<div class="p" style="left:636.3px;top:163.6px;width:42.5px">6<span class="pc">%</span></div>
<div class="p" style="left:678.8px;top:163.6px;width:42.9px">63<span class="pc">%</span></div>
<div class="p" style="left:721.7px;top:163.6px;width:42.6px">50<span class="pc">%</span></div>
<div class="p" style="left:764.3px;top:163.6px;width:42.4px">38<span class="pc">%</span></div>
<div class="p" style="left:806.7px;top:163.6px;width:42.7px">75<span class="pc">%</span></div>
<div class="t" style="left:848.4px;top:164.1px;width:42.6px;color:#111">10</div>
<div class="t" style="left:891px;top:164.1px;width:42.3px;color:#111">0</div>
<div class="c" style="left:934.3px;top:163.5px;width:42.8px">空</div>
<div class="c" style="left:977.1px;top:163.5px;width:43.3px">空</div>
<div class="d" style="left:0px;top:181.39px;width:82.6px">2024/3/18</div>
<div class="t" style="left:81.6px;top:182.39px;width:42.6px;color:#50607e">57</div>
<div class="t" style="left:124.2px;top:182.39px;width:42.6px;color:#b03a48">41</div>
<div class="t" style="left:166.8px;top:182.39px;width:42.6px;color:#6b7a4c">1</div>
<div class="t" style="left:209.4px;top:182.39px;width:42.7px;color:#50607e">18</div>
<div class="t" style="left:252.1px;top:182.39px;width:42.3px;color:#b03a48">11</div>
<div class="t" style="left:294.4px;top:182.39px;width:42.8px;color:#6b7a4c">1</div>
<div class="t" style="left:337.2px;top:182.39px;width:43.1px;color:#6b7a4c">7</div>
<div class="t" style="left:380.3px;top:182.39px;width:42.2px;color:#111">10</div>
<div class="t" style="left:422.5px;top:182.39px;width:42.5px;color:#111">20</div>
<div class="t" style="left:465px;top:182.39px;width:42.5px;color:#111">3</div>
<div class="t" style="left:507.5px;top:182.39px;width:42.9px;color:#111">9</div>
<div class="p" style="left:593.7px;top:181.89px;width:42.6px">72<span class="pc">%</span></div>
<div class="p" style="left:636.3px;top:181.89px;width:42.5px">2<span class="pc">%</span></div>
<div class="p" style="left:678.8px;top:181.89px;width:42.9px">61<span class="pc">%</span></div>
<div class="p" style="left:721.7px;top:181.89px;width:42.6px">44<span class="pc">%</span></div>
<div class="p" style="left:764.3px;top:181.89px;width:42.4px">22<span class="pc">%</span></div>
<div class="p" style="left:806.7px;top:181.89px;width:42.7px">70<span class="pc">%</span></div>
<div class="t" style="left:848.4px;top:182.39px;width:42.6px;color:#111">10</div>
<div class="t" style="left:891px;top:182.39px;width:42.3px;color:#111">4</div>
<div class="c" style="left:934.3px;top:181.79px;width:42.8px">空</div>
<div class="c" style="left:977.1px;top:181.79px;width:43.3px">空</div>
<div class="d" style="left:0px;top:199.68px;width:82.6px">2024/3/19</div>
<div class="t" style="left:81.6px;top:200.68px;width:42.6px;color:#50607e">66</div>
<div class="t" style="left:124.2px;top:200.68px;width:42.6px;color:#b03a48">45</div>
<div class="t" style="left:166.8px;top:200.68px;width:42.6px;color:#6b7a4c">5</div>
<div class="t" style="left:209.4px;top:200.68px;width:42.7px;color:#50607e">20</div>
<div class="t" style="left:252.1px;top:200.68px;width:42.3px;color:#b03a48">14</div>
<div class="t" style="left:294.4px;top:200.68px;width:42.8px;color:#6b7a4c">2</div>
<div class="t" style="left:337.2px;top:200.68px;width:43.1px;color:#6b7a4c">4</div>
<div class="t" style="left:380.3px;top:200.68px;width:42.2px;color:#111">6</div>
<div class="t" style="left:422.5px;top:200.68px;width:42.5px;color:#111">22</div>
<div class="t" style="left:465px;top:200.68px;width:42.5px;color:#111">4</div>
<div class="t" style="left:507.5px;top:200.68px;width:42.9px;color:#111">7</div>
<div class="p" style="left:593.7px;top:200.18px;width:42.6px">68<span class="pc">%</span></div>
<div class="p" style="left:636.3px;top:200.18px;width:42.5px">8<span class="pc">%</span></div>
<div class="p" style="left:678.8px;top:200.18px;width:42.9px">70<span class="pc">%</span></div>
<div class="p" style="left:721.7px;top:200.18px;width:42.6px">50<span class="pc">%</span></div>
<div class="p" style="left:764.3px;top:200.18px;width:42.4px">10<span class="pc">%</span></div>
<div class="p" style="left:806.7px;top:200.18px;width:42.7px">72<span class="pc">%</span></div>
<div class="t" style="left:848.4px;top:200.68px;width:42.6px;color:#111">10</div>
<div class="t" style="left:891px;top:200.68px;width:42.3px;color:#111">0</div>
<div class="c" style="left:934.3px;top:200.08px;width:42.8px">空</div>
<div class="c" style="left:977.1px;top:200.08px;width:43.3px">空</div>
<div class="d" style="left:0px;top:217.97px;width:82.6px">2024/3/20</div>
<div class="t" style="left:81.6px;top:218.97px;width:42.6px;color:#50607e">49</div>
<div class="t" style="left:124.2px;top:218.97px;width:42.6px;color:#b03a48">35</div>
<div class="t" style="left:166.8px;top:218.97px;width:42.6px;color:#6b7a4c">2</div>
<div class="t" style="left:209.4px;top:218.97px;width:42.7px;color:#50607e">15</div>
<div class="t" style="left:252.1px;top:218.97px;width:42.3px;color:#b03a48">13</div>
<div class="t" style="left:294.4px;top:218.97px;width:42.8px;color:#6b7a4c">0</div>
<div class="t" style="left:337.2px;top:218.97px;width:43.1px;color:#6b7a4c">2</div>
<div class="t" style="left:380.3px;top:218.97px;width:42.2px;color:#111">3</div>
<div class="t" style="left:422.5px;top:218.97px;width:42.5px;color:#111">24</div>
<div class="t" style="left:465px;top:218.97px;width:42.5px;color:#111">11</div>
<div class="t" style="left:507.5px;top:218.97px;width:42.9px;color:#111">8</div>
<div class="p" style="left:593.7px;top:218.47px;width:42.6px">71<span class="pc">%</span></div>
<div class="p" style="left:636.3px;top:218.47px;width:42.5px">4<span class="pc">%</span></div>
<div class="p" style="left:678.8px;top:218.47px;width:42.9px">87<span class="pc">%</span></div>
<div class="p" style="left:721.7px;top:218.47px;width:42.6px">73<span class="pc">%</span></div>
<div class="p" style="left:764.3px;top:218.47px;width:42.4px">0<span class="pc">%</span></div>
<div class="p" style="left:806.7px;top:218.47px;width:42.7px">67<span class="pc">%</span></div>
<div class="t" style="left:848.4px;top:218.97px;width:42.6px;color:#111">10</div>
<div class="t" style="left:891px;top:218.97px;width:42.3px;color:#111">8</div>
<div class="c2" style="left:934.3px;top:218.77px;width:42.8px">半高潮</div>
<div class="c2" style="left:977.1px;top:218.77px;width:43.3px">半高潮</div>
<div class="d" style="left:0px;top:236.26px;width:82.6px">2024/3/21</div>
<div class="t" style="left:81.6px;top:237.26px;width:42.6px;color:#50607e">59</div>
<div class="t" style="left:124.2px;top:237.26px;width:42.6px;color:#b03a48">35</div>
<div class="t" style="left:166.8px;top:237.26px;width:42.6px;color:#6b7a4c">12</div>
<div class="t" style="left:209.4px;top:237.26px;width:42.7px;color:#50607e">25</div>
<div class="t" style="left:252.1px;top:237.26px;width:42.3px;color:#b03a48">10</div>
<div class="t" style="left:294.4px;top:237.26px;width:42.8px;color:#6b7a4c">11</div>
<div class="t" style="left:337.2px;top:237.26px;width:43.1px;color:#6b7a4c">15</div>
<div class="t" style="left:380.3px;top:237.26px;width:42.2px;color:#111">15</div>
<div class="t" style="left:422.5px;top:237.26px;width:42.5px;color:#111">24</div>
<div class="t" style="left:465px;top:237.26px;width:42.5px;color:#111">6</div>
<div class="t" style="left:507.5px;top:237.26px;width:42.9px;color:#111">6</div>
<div class="p" style="left:593.7px;top:236.76px;width:42.6px">59<span class="pc">%</span></div>
<div class="p" style="left:636.3px;top:236.76px;width:42.5px">20<span class="pc">%</span></div>
<div class="p" style="left:678.8px;top:236.76px;width:42.9px">40<span class="pc">%</span></div>
<div class="p" style="left:721.7px;top:236.76px;width:42.6px">42<span class="pc">%</span></div>
<div class="p" style="left:764.3px;top:236.76px;width:42.4px">44<span class="pc">%</span></div>
<div class="p" style="left:806.7px;top:236.76px;width:42.7px">100<span class="pc">%</span></div>
<div class="t" style="left:848.4px;top:237.26px;width:42.6px;color:#111">10</div>
<div class="t" style="left:891px;top:237.26px;width:42.3px;color:#d8383a"><span style="color:#b89090;-webkit-text-stroke:0">-</span>8</div>
<div class="c" style="left:934.3px;top:236.66px;width:42.8px">空</div>
<div class="c" style="left:977.1px;top:236.66px;width:43.3px">空</div>
<div class="d" style="left:0px;top:254.55px;width:82.6px">2024/3/22</div>
<div class="t" style="left:81.6px;top:255.55px;width:42.6px;color:#50607e">47</div>
<div class="t" style="left:124.2px;top:255.55px;width:42.6px;color:#b03a48">26</div>
<div class="t" style="left:166.8px;top:255.55px;width:42.6px;color:#6b7a4c">13</div>
<div class="t" style="left:209.4px;top:255.55px;width:42.7px;color:#50607e">24</div>
<div class="t" style="left:252.1px;top:255.55px;width:42.3px;color:#b03a48">8</div>
<div class="t" style="left:294.4px;top:255.55px;width:42.8px;color:#6b7a4c">12</div>
<div class="t" style="left:337.2px;top:255.55px;width:43.1px;color:#6b7a4c">16</div>
<div class="t" style="left:380.3px;top:255.55px;width:42.2px;color:#111">17</div>
<div class="t" style="left:422.5px;top:255.55px;width:42.5px;color:#111">16</div>
<div class="t" style="left:465px;top:255.55px;width:42.5px;color:#111">5</div>
<div class="t" style="left:507.5px;top:255.55px;width:42.9px;color:#111">9</div>
<div class="p" style="left:593.7px;top:255.05px;width:42.6px">55<span class="pc">%</span></div>
<div class="p" style="left:636.3px;top:255.05px;width:42.5px">28<span class="pc">%</span></div>
<div class="p" style="left:678.8px;top:255.05px;width:42.9px">33<span class="pc">%</span></div>
<div class="p" style="left:721.7px;top:255.05px;width:42.6px">29<span class="pc">%</span></div>
<div class="p" style="left:764.3px;top:255.05px;width:42.4px">50<span class="pc">%</span></div>
<div class="p" style="left:806.7px;top:255.05px;width:42.7px">94<span class="pc">%</span></div>
<div class="t" style="left:848.4px;top:255.55px;width:42.6px;color:#111">6</div>
<div class="t" style="left:891px;top:255.55px;width:42.3px;color:#d8383a"><span style="color:#b89090;-webkit-text-stroke:0">-</span>8</div>
<div class="c" style="left:934.3px;top:254.95px;width:42.8px">空</div>
<div class="c" style="left:977.1px;top:254.95px;width:43.3px">空</div>
<div class="d" style="left:0px;top:272.84px;width:82.6px">2024/3/25</div>
<div class="t" style="left:81.6px;top:273.84px;width:42.6px;color:#50607e">43</div>
<div class="t" style="left:124.2px;top:273.84px;width:42.6px;color:#b03a48">16</div>
<div class="t" style="left:166.8px;top:273.84px;width:42.6px;color:#6b7a4c">27</div>
<div class="t" style="left:209.4px;top:273.84px;width:42.7px;color:#50607e">16</div>
<div class="t" style="left:252.1px;top:273.84px;width:42.3px;color:#b03a48">7</div>
<div class="t" style="left:294.4px;top:273.84px;width:42.8px;color:#6b7a4c">8</div>
<div class="t" style="left:337.2px;top:273.84px;width:43.1px;color:#6b7a4c">9</div>
<div class="t" style="left:380.3px;top:273.84px;width:42.2px;color:#111">10</div>
<div class="t" style="left:422.5px;top:273.84px;width:42.5px;color:#111">13</div>
<div class="t" style="left:465px;top:273.84px;width:42.5px;color:#111">3</div>
<div class="t" style="left:507.5px;top:273.84px;width:42.9px;color:#111">2</div>
<div class="p" style="left:593.7px;top:273.34px;width:42.6px">37<span class="pc">%</span></div>
<div class="p" style="left:636.3px;top:273.34px;width:42.5px">63<span class="pc">%</span></div>
<div class="p" style="left:678.8px;top:273.34px;width:42.9px">44<span class="pc">%</span></div>
<div class="p" style="left:721.7px;top:273.34px;width:42.6px">13<span class="pc">%</span></div>
<div class="p" style="left:764.3px;top:273.34px;width:42.4px">50<span class="pc">%</span></div>
<div class="p" style="left:806.7px;top:273.34px;width:42.7px">90<span class="pc">%</span></div>
<div class="t" style="left:848.4px;top:273.84px;width:42.6px;color:#111">6</div>
<div class="t" style="left:891px;top:273.84px;width:42.3px;color:#e0502a"><span style="color:#b89090;-webkit-text-stroke:0">-</span>12</div>
<div class="c" style="left:934.3px;top:273.24px;width:42.8px">空</div>
<div class="c" style="left:977.1px;top:273.24px;width:43.3px">空</div>
<div class="d" style="left:0px;top:291.13px;width:82.6px">2024/3/26</div>
<div class="t" style="left:81.6px;top:292.13px;width:42.6px;color:#50607e">29</div>
<div class="t" style="left:124.2px;top:292.13px;width:42.6px;color:#b03a48">13</div>
<div class="t" style="left:166.8px;top:292.13px;width:42.6px;color:#6b7a4c">9</div>
<div class="t" style="left:209.4px;top:292.13px;width:42.7px;color:#50607e">13</div>
<div class="t" style="left:252.1px;top:292.13px;width:42.3px;color:#b03a48">10</div>
<div class="t" style="left:294.4px;top:292.13px;width:42.8px;color:#6b7a4c">3</div>
<div class="t" style="left:337.2px;top:292.13px;width:43.1px;color:#6b7a4c">3</div>
<div class="t" style="left:380.3px;top:292.13px;width:42.2px;color:#111">4</div>
<div class="t" style="left:422.5px;top:292.13px;width:42.5px;color:#111">14</div>
<div class="t" style="left:465px;top:292.13px;width:42.5px;color:#111">3</div>
<div class="t" style="left:507.5px;top:292.13px;width:42.9px;color:#111">8</div>
<div class="p" style="left:593.7px;top:291.63px;width:42.6px">45<span class="pc">%</span></div>
<div class="p" style="left:636.3px;top:291.63px;width:42.5px">31<span class="pc">%</span></div>
<div class="p" style="left:678.8px;top:291.63px;width:42.9px">77<span class="pc">%</span></div>
<div class="p" style="left:721.7px;top:291.63px;width:42.6px">62<span class="pc">%</span></div>
<div class="p" style="left:764.3px;top:291.63px;width:42.4px">23<span class="pc">%</span></div>
<div class="p" style="left:806.7px;top:291.63px;width:42.7px">75<span class="pc">%</span></div>
<div class="t" style="left:848.4px;top:292.13px;width:42.6px;color:#111">10</div>
<div class="t" style="left:891px;top:292.13px;width:42.3px;color:#111">0</div>
<div class="c" style="left:934.3px;top:291.53px;width:42.8px">空</div>
<div class="c" style="left:977.1px;top:291.53px;width:43.3px">空</div>
<div class="d" style="left:0px;top:309.42px;width:82.6px">2024/3/27</div>
<div class="t" style="left:81.6px;top:310.42px;width:42.6px;color:#50607e">47</div>
<div class="t" style="left:124.2px;top:310.42px;width:42.6px;color:#b03a48">19</div>
<div class="t" style="left:166.8px;top:310.42px;width:42.6px;color:#6b7a4c">24</div>
<div class="t" style="left:209.4px;top:310.42px;width:42.7px;color:#50607e">16</div>
<div class="t" style="left:252.1px;top:310.42px;width:42.3px;color:#b03a48">8</div>
<div class="t" style="left:294.4px;top:310.42px;width:42.8px;color:#6b7a4c">9</div>
<div class="t" style="left:337.2px;top:310.42px;width:43.1px;color:#6b7a4c">8</div>
<div class="t" style="left:380.3px;top:310.42px;width:42.2px;color:#111">9</div>
<div class="t" style="left:422.5px;top:310.42px;width:42.5px;color:#111">12</div>
<div class="t" style="left:465px;top:310.42px;width:42.5px;color:#111">5</div>
<div class="t" style="left:507.5px;top:310.42px;width:42.9px;color:#111">2</div>
<div class="p" style="left:593.7px;top:309.92px;width:42.6px">40<span class="pc">%</span></div>
<div class="p" style="left:636.3px;top:309.92px;width:42.5px">51<span class="pc">%</span></div>
<div class="p" style="left:678.8px;top:309.92px;width:42.9px">50<span class="pc">%</span></div>
<div class="p" style="left:721.7px;top:309.92px;width:42.6px">50<span class="pc">%</span></div>
<div class="p" style="left:764.3px;top:309.92px;width:42.4px">56<span class="pc">%</span></div>
<div class="p" style="left:806.7px;top:309.92px;width:42.7px">89<span class="pc">%</span></div>
<div class="t" style="left:848.4px;top:310.42px;width:42.6px;color:#111">6</div>
<div class="t" style="left:891px;top:310.42px;width:42.3px;color:#e0502a"><span style="color:#b89090;-webkit-text-stroke:0">-</span>12</div>
<div class="c" style="left:934.3px;top:309.82px;width:42.8px">空</div>
<div class="c" style="left:977.1px;top:309.82px;width:43.3px">空</div>
<div class="d" style="left:0px;top:327.71px;width:82.6px">2024/3/28</div>
<div class="t" style="left:81.6px;top:328.71px;width:42.6px;color:#50607e">32</div>
<div class="t" style="left:124.2px;top:328.71px;width:42.6px;color:#b03a48">23</div>
<div class="t" style="left:166.8px;top:328.71px;width:42.6px;color:#6b7a4c">1</div>
<div class="t" style="left:209.4px;top:328.71px;width:42.7px;color:#50607e">12</div>
<div class="t" style="left:252.1px;top:328.71px;width:42.3px;color:#b03a48">7</div>
<div class="t" style="left:294.4px;top:328.71px;width:42.8px;color:#6b7a4c">1</div>
<div class="t" style="left:337.2px;top:328.71px;width:43.1px;color:#6b7a4c">5</div>
<div class="t" style="left:380.3px;top:328.71px;width:42.2px;color:#111">6</div>
<div class="t" style="left:422.5px;top:328.71px;width:42.5px;color:#111">11</div>
<div class="t" style="left:465px;top:328.71px;width:42.5px;color:#111">3</div>
<div class="t" style="left:507.5px;top:328.71px;width:42.9px;color:#111">12</div>
<div class="p" style="left:593.7px;top:328.21px;width:42.6px">72<span class="pc">%</span></div>
<div class="p" style="left:636.3px;top:328.21px;width:42.5px">3<span class="pc">%</span></div>
<div class="p" style="left:678.8px;top:328.21px;width:42.9px">58<span class="pc">%</span></div>
<div class="p" style="left:721.7px;top:328.21px;width:42.6px">50<span class="pc">%</span></div>
<div class="p" style="left:764.3px;top:328.21px;width:42.4px">8<span class="pc">%</span></div>
<div class="p" style="left:806.7px;top:328.21px;width:42.7px">83<span class="pc">%</span></div>
<div class="t" style="left:848.4px;top:328.71px;width:42.6px;color:#111">10</div>
<div class="t" style="left:891px;top:328.71px;width:42.3px;color:#111">0</div>
<div class="c" style="left:934.3px;top:328.11px;width:42.8px">空</div>
<div class="c" style="left:977.1px;top:328.11px;width:43.3px">空</div>
<div class="d" style="left:0px;top:346px;width:82.6px">2024/3/29</div>
<div class="t" style="left:81.6px;top:347px;width:42.6px;color:#50607e">66</div>
<div class="t" style="left:124.2px;top:347px;width:42.6px;color:#b03a48">42</div>
<div class="t" style="left:166.8px;top:347px;width:42.6px;color:#6b7a4c">9</div>
<div class="t" style="left:209.4px;top:347px;width:42.7px;color:#50607e">11</div>
<div class="t" style="left:252.1px;top:347px;width:42.3px;color:#b03a48">5</div>
<div class="t" style="left:294.4px;top:347px;width:42.8px;color:#6b7a4c">6</div>
<div class="t" style="left:337.2px;top:347px;width:43.1px;color:#6b7a4c">6</div>
<div class="t" style="left:380.3px;top:347px;width:42.2px;color:#111">6</div>
<div class="t" style="left:422.5px;top:347px;width:42.5px;color:#111">13</div>
<div class="t" style="left:465px;top:347px;width:42.5px;color:#111">5</div>
<div class="t" style="left:507.5px;top:347px;width:42.9px;color:#111">6</div>
<div class="p" style="left:593.7px;top:346.5px;width:42.6px">64<span class="pc">%</span></div>
<div class="p" style="left:636.3px;top:346.5px;width:42.5px">14<span class="pc">%</span></div>
<div class="p" style="left:678.8px;top:346.5px;width:42.9px">45<span class="pc">%</span></div>
<div class="p" style="left:721.7px;top:346.5px;width:42.6px">45<span class="pc">%</span></div>
<div class="p" style="left:764.3px;top:346.5px;width:42.4px">55<span class="pc">%</span></div>
<div class="p" style="left:806.7px;top:346.5px;width:42.7px">100<span class="pc">%</span></div>
<div class="t" style="left:848.4px;top:347px;width:42.6px;color:#111">10</div>
<div class="t" style="left:891px;top:347px;width:42.3px;color:#d8383a"><span style="color:#b89090;-webkit-text-stroke:0">-</span>4</div>
<div class="c" style="left:934.3px;top:346.4px;width:42.8px">空</div>
<div class="c" style="left:977.1px;top:346.4px;width:43.3px">空</div>
<div class="d" style="left:0px;top:364.29px;width:82.6px">2024/4/1</div>
<div class="t" style="left:81.6px;top:365.29px;width:42.6px;color:#50607e">53</div>
<div class="t" style="left:124.2px;top:365.29px;width:42.6px;color:#b03a48">44</div>
<div class="t" style="left:166.8px;top:365.29px;width:42.6px;color:#6b7a4c">3</div>
<div class="t" style="left:209.4px;top:365.29px;width:42.7px;color:#50607e">13</div>
<div class="t" style="left:252.1px;top:365.29px;width:42.3px;color:#b03a48">9</div>
<div class="t" style="left:294.4px;top:365.29px;width:42.8px;color:#6b7a4c">4</div>
<div class="t" style="left:337.2px;top:365.29px;width:43.1px;color:#6b7a4c">4</div>
<div class="t" style="left:380.3px;top:365.29px;width:42.2px;color:#111">5</div>
<div class="t" style="left:422.5px;top:365.29px;width:42.5px;color:#111">18</div>
<div class="t" style="left:465px;top:365.29px;width:42.5px;color:#111">4</div>
<div class="t" style="left:507.5px;top:365.29px;width:42.9px;color:#111">7</div>
<div class="p" style="left:593.7px;top:364.79px;width:42.6px">83<span class="pc">%</span></div>
<div class="p" style="left:636.3px;top:364.79px;width:42.5px">6<span class="pc">%</span></div>
<div class="p" style="left:678.8px;top:364.79px;width:42.9px">69<span class="pc">%</span></div>
<div class="p" style="left:721.7px;top:364.79px;width:42.6px">62<span class="pc">%</span></div>
<div class="p" style="left:764.3px;top:364.79px;width:42.4px">31<span class="pc">%</span></div>
<div class="p" style="left:806.7px;top:364.79px;width:42.7px">80<span class="pc">%</span></div>
<div class="t" style="left:848.4px;top:365.29px;width:42.6px;color:#111">10</div>
<div class="t" style="left:891px;top:365.29px;width:42.3px;color:#111">4</div>
<div class="c" style="left:934.3px;top:364.69px;width:42.8px">空</div>
<div class="c" style="left:977.1px;top:364.69px;width:43.3px">空</div>
<div class="d" style="left:0px;top:382.58px;width:82.6px">2024/4/2</div>
<div class="t" style="left:81.6px;top:383.58px;width:42.6px;color:#50607e">62</div>
<div class="t" style="left:124.2px;top:383.58px;width:42.6px;color:#b03a48">40</div>
<div class="t" style="left:166.8px;top:383.58px;width:42.6px;color:#6b7a4c">11</div>
<div class="t" style="left:209.4px;top:383.58px;width:42.7px;color:#50607e">18</div>
<div class="t" style="left:252.1px;top:383.58px;width:42.3px;color:#b03a48">13</div>
<div class="t" style="left:294.4px;top:383.58px;width:42.8px;color:#6b7a4c">4</div>
<div class="t" style="left:337.2px;top:383.58px;width:43.1px;color:#6b7a4c">5</div>
<div class="t" style="left:380.3px;top:383.58px;width:42.2px;color:#111">7</div>
<div class="t" style="left:422.5px;top:383.58px;width:42.5px;color:#111">21</div>
<div class="t" style="left:465px;top:383.58px;width:42.5px;color:#111">4</div>
<div class="t" style="left:507.5px;top:383.58px;width:42.9px;color:#111">7</div>
<div class="p" style="left:593.7px;top:383.08px;width:42.6px">65<span class="pc">%</span></div>
<div class="p" style="left:636.3px;top:383.08px;width:42.5px">18<span class="pc">%</span></div>
<div class="p" style="left:678.8px;top:383.08px;width:42.9px">72<span class="pc">%</span></div>
<div class="p" style="left:721.7px;top:383.08px;width:42.6px">61<span class="pc">%</span></div>
<div class="p" style="left:764.3px;top:383.08px;width:42.4px">22<span class="pc">%</span></div>
<div class="p" style="left:806.7px;top:383.08px;width:42.7px">71<span class="pc">%</span></div>
<div class="t" style="left:848.4px;top:383.58px;width:42.6px;color:#111">10</div>
<div class="t" style="left:891px;top:383.58px;width:42.3px;color:#111">8</div>
<div class="c2" style="left:934.3px;top:383.38px;width:42.8px">启动日</div>
<div class="c2" style="left:977.1px;top:383.38px;width:43.3px">启动日</div>
<div id="bn"></div>
<div id="bt">新<span class="lt" style="letter-spacing:-1.1px;margin-right:-2px">2024</span>奥门免费资料<span class="lt" style="letter-spacing:-0.6px;margin-right:-1px">346</span>期<span class="lt">,</span>实地分析数据方案<span class="lt">_XR8.466</span></div>
</div></body></html>
